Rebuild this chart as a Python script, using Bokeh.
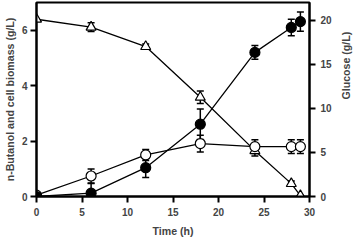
import math
from bokeh.plotting import figure
from bokeh.models import Range1d, LinearAxis, ColumnDataSource, Whisker, TeeHead, FixedTicker
from bokeh.embed import file_html
from bokeh.resources import INLINE

time = [0, 6, 12, 18, 24, 28, 29]
butanol = [0.0, 0.12, 1.04, 2.61, 5.2, 6.1, 6.31]
butanol_err = [0.0, 0.35, 0.35, 0.55, 0.25, 0.3, 0.35]
biomass = [0.05, 0.74, 1.5, 1.91, 1.8, 1.8, 1.8]
biomass_err = [0.0, 0.25, 0.2, 0.3, 0.25, 0.25, 0.25]
glucose = [20.1, 19.2, 17.0, 11.25, 5.2, 1.46, 0.1]
glucose_err = [0.0, 0.5, 0.3, 0.7, 0.6, 0.3, 0.0]

FONT = "Liberation Sans"

p = figure(width=360, height=240, output_backend="svg", toolbar_location=None,
           x_range=Range1d(0, 30), y_range=Range1d(0, 7),
           min_border_left=34, min_border_right=48, min_border_top=2, min_border_bottom=44)
p.extra_y_ranges = {"g": Range1d(0, 22)}
p.grid.visible = False
p.outline_line_color = "black"
p.outline_line_width = 2
p.background_fill_color = "white"
p.border_fill_color = "white"

def style(ax):
    ax.axis_line_width = 2
    ax.major_tick_line_width = 2
    ax.major_tick_out = 6
    ax.major_tick_in = 0
    ax.minor_tick_line_color = None
    ax.major_label_text_font = FONT
    ax.major_label_text_font_style = "bold"
    ax.major_label_text_font_size = "10px"
    ax.axis_label_text_font = FONT
    ax.axis_label_text_font_style = "bold"
    ax.axis_label_text_font_size = "10.6px"
    ax.major_label_standoff = 3
    ax.axis_label_standoff = 5

p.xaxis.ticker = FixedTicker(ticks=[0, 5, 10, 15, 20, 25, 30])
p.yaxis.ticker = FixedTicker(ticks=[0, 2, 4, 6])
p.xaxis.axis_label = "Time (h)"
p.yaxis.axis_label = "n-Butanol and cell biomass (g/L)"
style(p.xaxis[0])
style(p.yaxis[0])
p.xaxis.major_label_standoff = 5
p.xaxis.axis_label_standoff = 6
p.yaxis.axis_label_standoff = 3

rax = LinearAxis(y_range_name="g", ticker=FixedTicker(ticks=[0, 5, 10, 15, 20]),
                 axis_label="Glucose (g/L)")
style(rax)
rax.major_label_standoff = 5
rax.axis_label_standoff = 11
rax.axis_label_orientation = math.pi / 2
rax.axis_label_text_align = "center"
p.add_layout(rax, "right")

src = ColumnDataSource(dict(
    t=time, b=butanol, bu=[v + e for v, e in zip(butanol, butanol_err)],
    bl=[v - e for v, e in zip(butanol, butanol_err)],
    m=biomass, mu=[v + e for v, e in zip(biomass, biomass_err)],
    ml=[v - e for v, e in zip(biomass, biomass_err)],
    g=glucose, gu=[v + e for v, e in zip(glucose, glucose_err)],
    gl=[v - e for v, e in zip(glucose, glucose_err)],
))

p.line("t", "g", source=src, y_range_name="g", line_color="black", line_width=1.3)
p.line("t", "b", source=src, line_color="black", line_width=1.3)
p.line("t", "m", source=src, line_color="black", line_width=1.3)

for lo, hi, rn in [("gl", "gu", "g"), ("bl", "bu", "default"), ("ml", "mu", "default")]:
    w = Whisker(source=src, base="t", lower=lo, upper=hi, y_range_name=rn,
                line_color="black", line_width=1.5,
                upper_head=TeeHead(size=7, line_width=1.5, line_color="black"),
                lower_head=TeeHead(size=7, line_width=1.5, line_color="black"))
    p.add_layout(w)

p.scatter("t", "g", source=src, y_range_name="g", marker="triangle", size=10,
          fill_color="white", line_color="black", line_width=1.2)
p.scatter("t", "m", source=src, marker="circle", size=10,
          fill_color="white", line_color="black", line_width=1.2)
p.scatter("t", "b", source=src, marker="circle", size=10,
          fill_color="black", line_color="black", line_width=1.2)

open("out.html", "w").write(file_html(p, INLINE))
